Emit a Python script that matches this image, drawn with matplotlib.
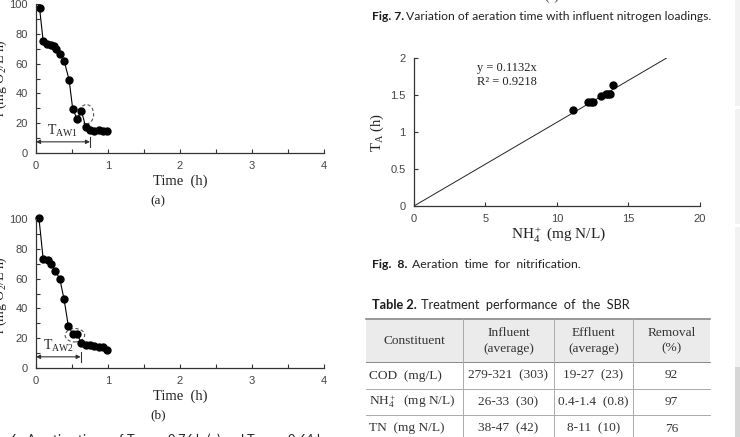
import matplotlib.pyplot as plt
from matplotlib.patches import Ellipse, Rectangle
import numpy as np

W, H = 740, 437

# Fig. 6 (a) and (b): rate vs time
time_a = [0.05, 0.10, 0.15, 0.21, 0.25, 0.28, 0.34, 0.39, 0.46, 0.51, 0.57, 0.63, 0.69, 0.75, 0.81, 0.87, 0.93, 0.99]
rate_a = [97, 75, 73, 72.5, 72, 70, 66.5, 62, 49, 29.5, 23, 28.5, 17.5, 15.5, 14.5, 15.5, 14.5, 15]
time_b = [0.04, 0.10, 0.16, 0.21, 0.27, 0.33, 0.39, 0.45, 0.51, 0.57, 0.63, 0.69, 0.75, 0.81, 0.87, 0.93, 0.99]
rate_b = [101, 73, 72.5, 70, 65, 60, 46, 28, 23, 22.5, 17, 15.5, 15.5, 14.5, 14, 14, 12]
t_aw = [0.75, 0.62]  # end of the T_AW arrows as drawn

# Fig. 8: aeration time vs NH4+
nh4 = [11.1, 12.2, 12.4, 12.5, 13.1, 13.4, 13.6, 13.7, 13.9]
ta = [1.30, 1.41, 1.41, 1.41, 1.49, 1.52, 1.52, 1.52, 1.64]
slope = 0.1132
r2 = 0.9218

# Table 2
tab_header = ["Constituent", "Influent\n(average)", "Effluent\n(average)", "Removal\n(%)"]
tab_rows = [
    ["COD  (mg/L)", "279-321  (303)", "19-27  (23)", "92"],
    ["NH$_4^+$  (mg N/L)", "26-33  (30)", "0.4-1.4  (0.8)", "97"],
    ["TN  (mg N/L)", "38-47  (42)", "8-11  (10)", "76"],
]

SANS = "Liberation Sans"
SERIF = "Liberation Serif"
CAP = "Lato"

plt.rcParams["mathtext.fontset"] = "custom"
plt.rcParams["mathtext.rm"] = SERIF
plt.rcParams["mathtext.it"] = SERIF + ":italic"
plt.rcParams["mathtext.default"] = "rm"

fig = plt.figure(figsize=(W / 100, H / 100), dpi=100)

# page layer in pixel coordinates
page = fig.add_axes([0, 0, 1, 1])
page.set_xlim(0, W)
page.set_ylim(H, 0)
page.axis("off")


def px_axes(l, t, r, b):
    ax = fig.add_axes([l / W, 1 - b / H, (r - l) / W, (b - t) / H])
    ax.patch.set_alpha(0)
    for s in ["top", "right"]:
        ax.spines[s].set_visible(False)
    for s in ["left", "bottom"]:
        ax.spines[s].set_color("#333333")
        ax.spines[s].set_linewidth(0.9)
    ax.tick_params(which="both", direction="in", length=3, width=0.8, color="#333333",
                   labelsize=8, labelcolor="#444444", pad=6)
    return ax


def sans_ticks(ax):
    for lab in ax.get_xticklabels() + ax.get_yticklabels():
        lab.set_fontfamily(SANS)


def time_panel(ax, t, r, tend, sub, ell):
    ax.plot(t, r, color="black", lw=0.8, marker="o", ms=5, clip_on=False)
    ax.set_xlim(0, 4)
    ax.set_ylim(0, 100)
    ax.set_xticks([0, 1, 2, 3, 4])
    ax.set_xticks([0.5, 1.5, 2.5, 3.5], minor=True)
    ax.set_yticks(np.arange(0, 101, 20))
    ax.set_yticks(np.arange(10, 100, 20), minor=True)
    sans_ticks(ax)
    ax.annotate("", xy=(tend, 7.5), xytext=(0, 7.5),
                arrowprops=dict(arrowstyle="<|-|>", color="#333333", lw=0.8,
                                mutation_scale=6, shrinkA=0, shrinkB=0))
    ax.plot([tend, tend], [4, 11], color="#333333", lw=0.8)
    ax.text(tend / 2, 9.5, "T$_{" + sub + "}$", ha="center", va="bottom",
            fontfamily=SERIF, fontsize=10, color="#222222")
    ax.add_patch(Ellipse(ell[:2], ell[2], ell[3], fill=False, ls=(0, (3, 2)),
                         ec="#555555", lw=0.8))


ax_a = px_axes(36, 4, 324, 153)
time_panel(ax_a, time_a, rate_a, t_aw[0], "AW1", (0.70, 26, 0.2, 13))
ax_b = px_axes(36, 219, 324, 368)
time_panel(ax_b, time_b, rate_b, t_aw[1], "AW2", (0.54, 22, 0.27, 9))

for yc, ylab, ysub, sub in [(78, 181, 201, "(a)"), (295, 396, 415, "(b)")]:
    page.text(0, yc, "r (mg O$_2$/L h)", rotation=90, ha="center", va="center",
              fontfamily=SERIF, fontsize=10, color="#222222")
    page.text(180, ylab, "Time  (h)", ha="center", va="center", fontfamily=SERIF,
              fontsize=10.5, color="#222222")
    page.text(158, ysub, sub, ha="center", va="center", fontfamily=SERIF,
              fontsize=9.5, color="#222222")

page.text(-14, 444, "Fig. 6.  Aeration times of T$_{AW1}$ = 0.76 h (a) and T$_{AW2}$ = 0.64 h",
          ha="left", va="baseline", fontfamily=CAP, fontsize=9.2, color="#222222")

# Fig. 8 axes
ax_c = px_axes(414, 58, 700, 206)
x_fit = np.array([0, 2 / slope])
ax_c.plot(x_fit, slope * x_fit, color="#222222", lw=0.7)
ax_c.plot(nh4, ta, "o", color="black", ms=5)
ax_c.set_xlim(0, 20)
ax_c.set_ylim(0, 2)
ax_c.set_xticks([0, 5, 10, 15, 20])
ax_c.set_yticks([0, 0.5, 1, 1.5, 2])
ax_c.set_yticklabels(["0", "0.5", "1", "1.5", "2"])
sans_ticks(ax_c)
ax_c.text(4.4, 1.86, f"y = {slope}x", fontfamily=SERIF, fontsize=9, color="#222222", va="center")
ax_c.text(4.4, 1.67, f"R² = {r2}", fontfamily=SERIF, fontsize=9, color="#222222", va="center")
page.text(377, 133, "T$_A$ (h)", rotation=90, ha="center", va="center",
          fontfamily=SERIF, fontsize=10.5, color="#222222")
page.text(558, 235, "NH$_4^+$ (mg N/L)", ha="center", va="center",
          fontfamily=SERIF, fontsize=11, color="#222222")

# captions on the right column (baseline aligned)
page.text(552, -3, "(c)", ha="center", va="center", fontfamily=SERIF, fontsize=9.5, color="#222222")
captions = [
    (20, "Fig. 7.", 406, "Variation of aeration time with influent nitrogen loadings.", 8.7),
    (268, "Fig.  8.", 412, "Aeration  time  for  nitrification.", 8.8),
    (309, "Table 2.", 421, "Treatment  performance  of  the  SBR", 9.2),
]
for yb, head, x2, body, fs in captions:
    page.text(372, yb, head, ha="left", va="baseline", fontfamily=CAP, fontsize=fs,
              fontweight="bold", color="#1a1a1a")
    page.text(x2, yb, body, ha="left", va="baseline", fontfamily=CAP, fontsize=fs,
              color="#222222")

# Table 2
col_edges = [366, 463, 554, 633, 710]
row_lines = [319, 362, 389, 415, 442]
page.add_patch(Rectangle((366, 319), 344, 43, color="#ebebeb", lw=0))
for i, y in enumerate(row_lines):
    page.plot([366, 710], [y, y], color="#888888" if i in (0, 1) else "#aaaaaa",
              lw=1.2 if i == 0 else 0.7)
for x in col_edges[1:-1]:
    page.plot([x, x], [319, 442], color="#aaaaaa", lw=0.7)
centers = [(a + b) / 2 for a, b in zip(col_edges[:-1], col_edges[1:])]
for j, h in enumerate(tab_header):
    page.text(centers[j], 341, h, ha="center", va="center",
              fontfamily=SERIF, fontsize=9.6, color="#333333", linespacing=1.35)
for i, row in enumerate(tab_rows):
    yc = (row_lines[i + 1] + row_lines[i + 2]) / 2
    for j, cell in enumerate(row):
        if j == 0:
            page.text(369, yc, cell, ha="left", va="center", fontfamily=SERIF,
                      fontsize=9.6, color="#333333")
        else:
            page.text(centers[j], yc, cell, ha="center", va="center",
                      fontfamily=SERIF, fontsize=9.6, color="#333333")

# side bar at the right edge
for y0, y1, c in [(0, 106, "#f2f2f2"), (109, 224, "#f2f2f2"), (227, 367, "#f2f2f2"),
                  (367, 437, "#d6d6d6")]:
    page.add_patch(Rectangle((735, y0), 6, y1 - y0, color=c, lw=0))

fig.savefig("out.png", dpi=100)
